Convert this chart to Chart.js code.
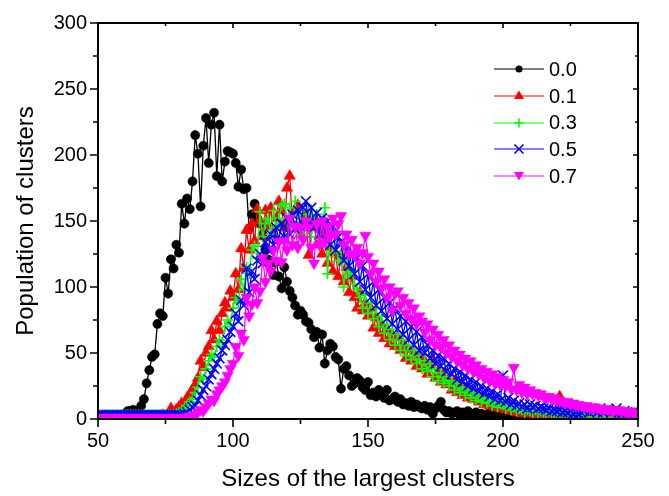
<!DOCTYPE html>
<html>
<head>
<meta charset="utf-8">
<script src="https://cdn.jsdelivr.net/npm/chart.js@4.4.0/dist/chart.umd.min.js"></script>
<style>
  html, body { margin: 0; padding: 0; background: #fff; }
  #wrap { position: relative; width: 669px; height: 496px; }
  #legend { position: absolute; left: 494px; top: 56px; font-family: Arial, "Liberation Sans", sans-serif; font-size: 20px; color: #000; }
  .row { height: 26.7px; display: flex; align-items: center; }
  .row svg { display: block; width: 50px; height: 20px; margin-right: 5px; }
</style>
</head>
<body>
<div id="wrap">
  <canvas id="c" width="669" height="496"></canvas>
  <div id="legend"></div>
</div>
<script>
/* x = cluster size, one value per integer size from X_START */
const X_START = 50;
const X_MIN = 50, X_MAX = 250, X_STEP = 50;
const Y_MIN = 0, Y_MAX = 300, Y_STEP = 50;
const MINOR_X = 25, MINOR_Y = 25;

const LABELS = ['0.0', '0.1', '0.3', '0.5', '0.7'];

const pop00 = [
  1,1,2,1,1,2,1,2,2,3,
  4,6,6,7,5,6,10,15,27,37,
  47,49,72,80,78,107,95,121,114,132,
  126,163,148,167,159,180,215,201,161,207,
  228,194,223,232,184,223,180,195,203,202,
  201,194,176,189,174,175,144,155,163,152,
  148,140,128,121,118,109,119,108,99,115,
  104,97,92,86,79,82,79,74,73,68,
  62,66,54,64,42,52,57,55,47,45,
  23,38,40,33,25,27,31,29,24,22,
  28,18,20,17,22,19,16,22,14,15,
  17,13,15,11,12,10,13,9,11,9,
  8,10,7,9,4,8,10,13,7,5,
  6,4,5,6,3,5,4,6,3,4,
  5,3,4,2,3,5,2,3,2,4,
  2,3,1,2,2,1,3,2,1,2,
  1,2,1,1,2,0,1,2,1,1,
  1,0,1,2,1,1,0,1,1,0,
  1,1,0,1,0,1,1,0,0,1,
  0,1,0,0,1,0,0,1,0,0,
  0
];

const pop01 = [
  2,2,2,2,2,2,2,2,2,2,
  2,2,2,2,2,2,2,2,2,2,
  2,2,2,2,3,2,3,8,5,7,
  9,12,10,16,19,22,26,31,44,39,
  50,55,67,60,74,67,80,88,84,97,
  92,110,98,129,114,143,128,148,135,159,
  150,138,158,146,160,140,152,165,158,145,
  175,184,148,158,162,140,150,155,124,145,
  150,132,146,125,140,118,130,112,126,108,
  124,104,115,96,108,92,84,96,82,88,
  78,84,69,77,65,72,61,68,57,64,
  55,62,52,57,46,53,44,50,40,47,
  38,44,34,40,45,31,36,28,34,26,
  30,22,28,20,26,18,23,16,21,15,
  18,13,16,11,14,10,13,9,11,8,
  10,7,9,6,8,5,7,4,6,5,
  4,5,3,4,6,3,4,5,3,4,
  5,17,4,3,5,4,3,4,2,3,
  4,3,2,3,4,2,3,2,3,2,
  3,2,2,3,2,1,2,2,1,2,
  2
];

const pop03 = [
  3,3,3,3,3,3,3,3,3,3,
  3,3,3,3,3,3,3,3,3,3,
  3,3,3,3,3,3,3,3,3,4,
  5,7,8,10,13,15,20,24,32,30,
  38,44,49,47,55,60,58,70,75,72,
  84,92,88,106,98,115,110,128,131,122,
  157,138,148,152,140,158,145,152,162,163,
  150,160,146,165,142,155,140,152,158,138,
  150,155,136,148,160,110,138,126,140,120,
  126,100,120,108,112,102,98,92,84,94,
  80,88,76,84,70,78,65,72,60,68,
  56,64,52,60,48,56,45,52,42,48,
  38,44,36,42,32,38,29,35,27,32,
  25,29,22,27,20,24,18,22,16,20,
  14,18,13,16,12,15,10,14,9,12,
  11,8,10,7,9,6,8,7,5,7,
  6,5,7,5,6,4,5,6,4,5,
  4,5,3,4,5,3,4,3,4,3,
  3,4,2,3,3,4,2,3,2,3,
  4,3,5,3,4,3,2,4,3,2,
  2
];

const pop05 = [
  3,3,3,3,3,3,3,3,3,3,
  3,3,3,3,3,3,3,3,3,3,
  3,3,3,3,3,3,3,3,3,3,
  3,3,4,5,7,9,10,14,18,22,
  25,30,34,38,42,46,52,56,60,66,
  70,80,74,90,86,114,96,112,106,120,
  125,118,134,128,140,132,145,136,148,138,
  152,140,155,144,158,146,160,165,148,160,
  145,156,140,152,136,150,132,146,128,138,
  134,120,132,116,126,110,122,104,116,98,
  110,92,104,86,98,82,92,76,88,72,
  84,68,78,64,74,60,70,56,66,52,
  62,50,56,46,52,42,48,40,46,36,
  42,34,38,30,36,28,33,25,30,23,
  28,21,25,19,23,17,21,15,19,14,
  33,13,16,11,14,10,12,9,11,8,
  11,9,10,8,9,8,7,8,6,7,
  6,7,5,6,5,6,4,5,4,5,
  6,8,5,7,6,5,8,5,6,7,
  5,6,8,5,4,6,5,4,5,4,
  4
];

const pop07 = [
  1,1,1,1,1,1,1,1,1,1,
  1,1,1,1,1,1,1,1,1,1,
  1,1,1,1,1,1,1,1,1,1,
  1,1,1,1,2,2,3,5,7,6,
  9,12,15,14,19,22,25,28,33,38,
  42,55,48,65,60,92,78,87,100,88,
  97,122,104,118,112,128,120,134,119,135,
  128,152,132,146,130,145,136,150,145,130,
  118,148,132,150,134,146,138,152,140,148,
  154,132,140,125,136,124,130,118,126,139,
  123,110,118,104,112,99,106,92,100,82,
  95,97,86,92,80,88,76,84,72,78,
  74,66,72,60,68,56,64,54,60,50,
  56,47,52,44,49,41,46,38,44,36,
  41,34,38,31,36,29,34,27,32,26,
  30,25,28,23,39,22,26,20,24,19,
  22,19,20,18,19,17,16,17,15,16,
  14,14,13,12,13,11,12,10,11,10,
  9,10,9,8,9,8,8,7,8,7,
  7,6,7,7,6,6,5,6,5,4,
  4
];

const SERIES = [
  { label: LABELS[0], data: pop00, color: '#000000', style: 'circle',   radius: 4.6, rot: 0,   order: 5 },
  { label: LABELS[1], data: pop01, color: '#FF0000', style: 'triangle', radius: 6.5, rot: 0,   order: 4 },
  { label: LABELS[2], data: pop03, color: '#00FF00', style: 'cross',    radius: 5.5, rot: 0,   order: 3 },
  { label: LABELS[3], data: pop05, color: '#0000FF', style: 'crossRot', radius: 7,   rot: 0,   order: 2 },
  { label: LABELS[4], data: pop07, color: '#FF00FF', style: 'triangle', radius: 6.5, rot: 180, order: 1 },
];

const FONT = 'Arial, "Liberation Sans", sans-serif';

function toPoints(vals) {
  return vals.map((v, i) => ({ x: X_START + i, y: v }));
}

/* box + tick marks drawn from the scales */
const framePlugin = {
  id: 'frame',
  afterDatasetsDraw(chart) {
    const { ctx, chartArea: a, scales: { x, y } } = chart;
    ctx.save();
    ctx.strokeStyle = '#000';
    ctx.lineWidth = 1.6;
    ctx.beginPath();
    for (let v = X_MIN; v <= X_MAX; v += MINOR_X) {
      const px = x.getPixelForValue(v);
      const major = v % X_STEP === 0;
      ctx.moveTo(px, a.bottom); ctx.lineTo(px, a.bottom + (major ? 8 : 5));
      ctx.moveTo(px, a.top);    ctx.lineTo(px, a.top + (major ? 5 : 3));
    }
    for (let v = Y_MIN; v <= Y_MAX; v += MINOR_Y) {
      const py = y.getPixelForValue(v);
      const major = v % Y_STEP === 0;
      ctx.moveTo(a.left, py);  ctx.lineTo(a.left - (major ? 8 : 5), py);
      ctx.moveTo(a.right, py); ctx.lineTo(a.right - (major ? 5 : 3), py);
    }
    ctx.stroke();
    ctx.lineWidth = 2;
    ctx.strokeRect(a.left, a.top, a.right - a.left, a.bottom - a.top);
    ctx.restore();
  },
};

new Chart(document.getElementById('c'), {
  type: 'line',
  data: {
    datasets: SERIES.map(s => ({
      label: s.label,
      data: toPoints(s.data),
      order: s.order,
      borderColor: s.color,
      backgroundColor: s.color,
      borderWidth: 1.3,
      pointStyle: s.style,
      pointRadius: s.radius,
      pointRotation: s.rot,
      pointBackgroundColor: s.color,
      pointBorderColor: s.color,
      pointBorderWidth: (s.style === 'cross' || s.style === 'crossRot') ? 1.6 : 0.5,
      tension: 0,
      fill: false,
    })),
  },
  options: {
    responsive: false,
    animation: false,
    events: [],
    layout: { padding: { top: 19, right: 31, left: 0, bottom: 0 } },
    plugins: { legend: { display: false }, tooltip: { enabled: false } },
    scales: {
      x: {
        type: 'linear',
        min: X_MIN, max: X_MAX,
        grid: { display: false, drawTicks: false },
        border: { display: false },
        ticks: { stepSize: X_STEP, color: '#000', padding: 10, font: { family: FONT, size: 20 } },
        title: { display: true, text: 'Sizes of the largest clusters', color: '#000',
                 font: { family: FONT, size: 24 }, padding: { top: 0, bottom: 2 } },
        afterFit: s => { s.height = 77; },
      },
      y: {
        min: Y_MIN, max: Y_MAX,
        grid: { display: false, drawTicks: false },
        border: { display: false },
        ticks: { stepSize: Y_STEP, color: '#000', padding: 11, font: { family: FONT, size: 20 } },
        title: { display: true, text: 'Population of clusters', color: '#000',
                 font: { family: FONT, size: 24 }, padding: { top: 12, bottom: 0 } },
        afterFit: s => { s.width = 98; },
      },
    },
  },
  plugins: [framePlugin],
});

/* legend: line with marker, then label */
function markerSvg(s) {
  const c = s.color;
  let m = '';
  if (s.style === 'circle') m = `<circle cx="25" cy="10" r="3.6" fill="${c}"/>`;
  else if (s.style === 'triangle' && s.rot === 0) m = `<polygon points="25,4.5 30,13 20,13" fill="${c}"/>`;
  else if (s.style === 'triangle') m = `<polygon points="20,6 30,6 25,14.5" fill="${c}"/>`;
  else if (s.style === 'cross') m = `<path d="M25 5.5V14.5M20.5 10H29.5" stroke="${c}" stroke-width="1.6"/>`;
  else m = `<path d="M20.5 5.5L29.5 14.5M29.5 5.5L20.5 14.5" stroke="${c}" stroke-width="1.6"/>`;
  return `<svg viewBox="0 0 50 20"><line x1="0" y1="10" x2="50" y2="10" stroke="${c}" stroke-width="1.2"/>${m}</svg>`;
}

document.getElementById('legend').innerHTML = SERIES.map(s =>
  `<div class="row">${markerSvg(s)}<span>${s.label}</span></div>`
).join('');
</script>
</body>
</html>
